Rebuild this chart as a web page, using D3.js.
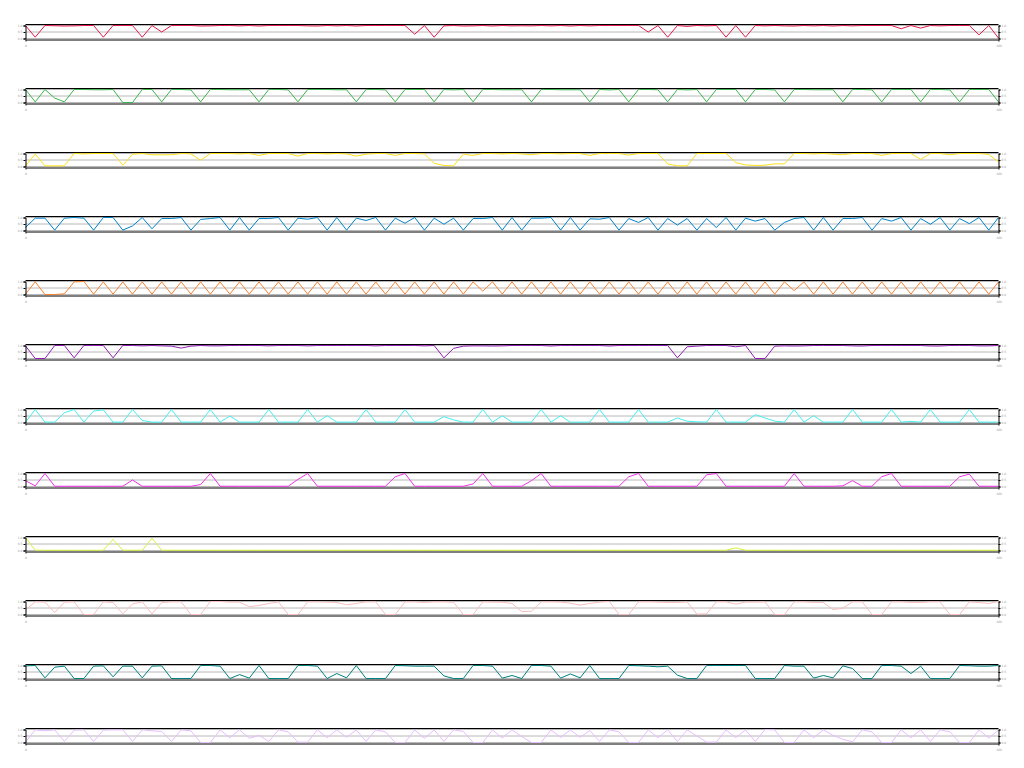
<!DOCTYPE html>
<html>
<head>
<meta charset="utf-8">
<script src="https://cdn.jsdelivr.net/npm/d3@7"></script>
<style>
  html, body { margin: 0; padding: 0; background: #fff; }
  svg { display: block; font-family: "DejaVu Sans", sans-serif; }
</style>
</head>
<body>
<svg id="chart" width="1024" height="768"></svg>
<script>
// ---- data (101 samples per series, x = 0..100) ----
const red = [1,0.1,1,0.98,0.96,0.97,1,1,0.1,1,1,1,0.1,1,0.5,1,1,1,0.96,0.97,1,1,0.97,1,0.96,1,1,1,1,0.97,0.96,1,0.97,1,0.96,1,1,1,1,1,0.33,1,0.1,0.97,1,0.96,0.97,1,0.96,1,0.97,
0.98,0.97,1,0.97,1,0.96,1,0.97,1,1,1,1,1,0.5,1,0.1,1,0.93,1,0.97,1,0.1,1,0.1,1,0.97,1,0.97,0.96,1,0.97,1,0.96,1,0.97,1,1,1,1,0.75,1,0.8,1,0.97,1,1,1,0.28,1,0.03];
const green = [1,0.05,1,0.34,0.05,1,1,0.98,0.98,1,0,0,1,1,0.05,1,1,0.97,0.05,1,1,0.98,0.98,0.98,0.05,1,1,0.97,0.05,1,1,1,0.98,0.98,0.05,1,1,0.97,0.05,1,1,1,0.05,1,0.97,1,0.05,1,1,0.98,0.98,
0.98,0.05,1,1,0.98,0.98,0.98,0.05,1,0.97,1,0.05,1,1,0.98,0.05,1,0.97,1,0.05,1,1,1,0.05,1,1,0.97,0.05,1,1,0.98,0.98,0.98,0.05,1,1,0.97,0.05,1,1,1,0.05,1,1,0.97,0.05,1,1,1,0.05];
const yellow = [0.05,0.95,0.05,0.05,0.05,1,0.97,1,1,1,0.1,0.95,1,0.9,0.9,0.9,1,0.97,0.48,1,1,1,0.97,1,0.85,1,1,1,0.8,1,1,0.97,1,0.97,0.8,0.95,1,1,0.85,1,1,0.97,0.25,0.08,0.05,0.95,0.85,1,1,0.97,1,
0.97,0.9,1,1,0.97,1,1,0.85,1,1,1,0.88,1,1,1,0.2,0.05,0.05,1,1,1,1,0.3,0.12,0.08,0.1,0.2,0.2,1,1,0.97,1,0.95,0.9,1,1,1,0.85,1,1,1,0.55,1,1,0.9,1,1,1,0.93,0.35];
const blue = [0.23,0.95,0.95,0.03,0.95,1,0.95,0.03,1,1,0.03,0.35,1,0.13,0.92,0.92,1,0.03,0.85,0.92,1,0.03,1,0.03,0.92,0.92,1,0.03,0.95,0.87,1,0.03,1,0.03,0.95,0.77,1,0.03,0.95,0.56,1,0.03,0.95,0.48,0.95,0.03,0.92,0.92,1,0.03,1,
0.03,0.95,0.95,1,0.03,1,0.03,0.9,0.87,1,0.03,0.92,0.62,1,0.03,0.92,0.42,0.92,0.03,0.92,0.23,1,0.03,0.95,0.72,0.92,0.03,0.62,0.92,1,0.03,1,0.03,0.92,0.92,1,0.03,0.92,0.72,1,0.03,0.92,0.48,1,0.03,0.92,0.53,1,0.03,1];
const orange = [0.03,0.97,0,0,0.05,0.97,1,0.03,0.97,0.03,0.97,0.03,0.97,0.03,0.97,0.03,0.97,0.03,0.97,0.03,0.97,0.03,0.97,0.03,0.97,0.03,0.97,0.03,0.97,0.03,0.97,0.03,0.97,0.03,0.97,0.03,0.97,0.03,0.97,0.03,0.97,0.03,0.97,0.03,0.97,0.03,0.97,0.26,0.97,0.03,0.97,
0.03,0.97,0.03,0.97,0.03,0.97,0.03,0.97,0.03,0.97,0.03,0.97,0.03,0.97,0.03,0.97,0.03,0.97,0.03,0.97,0.03,0.97,0.03,0.97,0.03,0.97,0.03,0.97,0.3,0.97,0.03,0.97,0.03,0.97,0.03,0.97,0.03,0.97,0.03,0.97,0.03,0.97,0.03,0.97,0.03,0.97,0.03,0.97,0.03,0.97];
const purple = [0.97,0,0,1,1,0.05,1,1,1,0.05,1,1,0.97,1,0.97,0.95,0.8,0.95,1,0.97,0.97,1,1,1,1,0.97,1,1,1,0.97,1,1,1,1,1,1,0.97,1,1,1,1,0.97,1,0.05,0.78,0.95,0.97,0.97,0.96,0.97,1,
1,1,1,0.96,1,1,1,1,1,0.96,1,1,1,1,1,1,0.05,0.9,0.95,1,1,1,0.9,1,0,0,0.95,0.97,0.96,0.97,1,1,1,1,0.97,0.96,1,1,1,1,1,1,0.96,0.96,1,1,1,0.97,0.97,1];
const cyan = [0.03,1,0.03,0.03,0.75,1,0.03,0.88,0.97,0.03,0.03,1,0.15,0.03,0.03,1,0.03,0.03,0.03,1,0.03,0.5,0.03,0.03,0.03,1,0.03,0.03,0.03,1,0.03,0.52,0.03,0.03,0.03,1,0.03,0.03,0.03,1,0.03,0.03,0.03,0.45,0.2,0.03,0.03,1,0.03,0.52,0.03,
0.03,0.03,1,0.03,0.52,0.03,0.03,0.03,1,0.03,0.03,0.03,1,0.03,0.03,0.03,0.35,0.1,0.05,0.03,1,0.03,0.03,0.03,0.6,0.35,0.1,0.03,1,0.03,0.52,0.03,0.03,0.03,1,0.03,0.03,0.03,1,0.03,0.08,0.03,1,0.03,0.03,0.03,1,0.03,0.03,0.03];
const magenta = [0.45,0.05,1,0.02,0.02,0.02,0.02,0.02,0.02,0.02,0.02,0.5,0.02,0.02,0.02,0.02,0.02,0.02,0.15,1,0.02,0.02,0.02,0.02,0.02,0.02,0.02,0.02,0.55,1,0.02,0.02,0.02,0.02,0.02,0.02,0.02,0.02,0.75,1,0.02,0.02,0.02,0.02,0.02,0.02,0.2,1,0.02,0.02,0.02,
0.02,0.45,1,0.02,0.02,0.02,0.02,0.02,0.02,0.02,0.02,0.75,1,0.02,0.02,0.02,0.02,0.02,0.02,0.9,1,0.02,0.02,0.02,0.02,0.02,0.02,0.02,1,0.02,0.02,0.02,0.02,0.05,0.45,0.02,0.02,0.75,1,0.02,0.02,0.02,0.02,0.02,0.02,0.75,0.95,0.02,0.02,0.02];
const lime = [1,0.02,0.02,0.02,0.02,0.02,0.02,0.02,0.02,0.85,0.02,0.02,0.02,0.95,0.02,0.02,0.02,0.02,0.02,0.02,0.02,0.02,0.02,0.02,0.02,0.02,0.02,0.02,0.02,0.02,0.02,0.02,0.02,0.02,0.02,0.02,0.02,0.02,0.02,0.02,0.02,0.02,0.02,0.02,0.02,0.02,0.02,0.02,0.02,0.02,0.02,
0.02,0.02,0.02,0.02,0.02,0.02,0.02,0.02,0.02,0.02,0.02,0.02,0.02,0.02,0.02,0.02,0.02,0.02,0.02,0.02,0.02,0.02,0.2,0.02,0.02,0.02,0.02,0.02,0.02,0.02,0.02,0.02,0.02,0.02,0.02,0.02,0.02,0.02,0.02,0.02,0.02,0.02,0.02,0.02,0.02,0.02,0.02,0.02,0.02,0.02];
const pink = [0.35,0.97,0.95,0.15,0.95,0.97,0,0,0.97,0.92,0.05,0.82,0.97,0.05,0.92,0.97,0.97,0,0,1,1,0.95,0.95,0.6,0.7,0.85,0.97,0,0,0.97,0.97,0.95,0.92,0.75,0.85,0.97,0.97,0,0,0.97,0.97,0.92,0.97,0.97,0.94,0,0,0.97,0.95,0.94,0.85,
0.22,0.25,0.97,0.97,0.95,0.87,0.72,0.85,0.95,1,0,0,0.97,0.97,0.95,0.92,0.92,0.97,0.03,0.05,0.97,0.97,0.8,0.95,0.95,0.97,0,0,0.97,0.97,0.92,0.92,0.38,0.48,0.97,0.97,0,0,0.97,0.97,0.92,0.92,0.97,0.97,0,0,0.97,0.92,0.85,1];
const teal = [0.97,1,0.05,0.87,0.95,0,0,0.95,0.97,0.13,0.95,0.95,0.05,0.95,0.97,0,0,0,1,1,0.95,0,0.3,0.03,1,0,0,0,1,1,0.95,0,0.38,0.05,1,0,0,0,1,0.98,0.95,0.95,0.95,0.2,0,0,1,1,0.95,0.03,0.23,
0,1,1,0.95,0.03,0.35,0.05,1,0,0,0,1,0.98,0.95,0.9,0.95,0.26,0,0,1,1,1,1,1,0,0,0,1,0.95,0.95,0.03,0.23,0.05,0.97,0.77,0,0,1,1,0.95,0.38,0.95,0,0,0,1,0.98,0.95,0.95,1];
const lavender = [0.03,0.97,0.9,0.97,0.08,0.95,0.97,0.08,0.95,0.97,0.97,0.08,0.97,0.9,0.85,0.08,0.97,0.9,0,0,0.97,0.37,0.97,0.32,0.55,0.08,0.97,0.82,0.03,0.03,0.97,0.37,0.97,0.4,0.97,0.08,0.97,0.82,0,0,0.97,0.32,0.97,0.08,0.97,0.85,0,0,0.97,0.34,0.97,
0.45,0,0,0.97,0.4,0.97,0.4,0.92,0.08,0.97,0.82,0,0,0.97,0.37,0.97,0.08,0.97,0.5,0.03,0.03,0.97,0.37,0.97,0.08,1,0.97,0,0,0.97,0.37,0.97,0.55,0.25,0.05,0.97,0.82,0,0,0.97,0.37,0.97,0.08,0.97,0.82,0,0,0.97,0.34,0.95];

const seriesNames = ["red","green","yellow","blue","orange","purple","cyan","magenta","lime","pink","teal","lavender"];
const seriesValues = [red, green, yellow, blue, orange, purple, cyan, magenta, lime, pink, teal, lavender];
const seriesColors = ["#e6194b","#3cb44b","#ffe119","#0082c8","#f58231","#911eb4","#46f0f0","#f032e6","#d2f53c","#fabebe","#008080","#e6beff"];
const yTicks = [0, 0.5, 1];
const xTicks = [0, 100];

// ---- layout ----
const left = 25.5, panelTop = 24.5, step = 64;
const W = 973, H = 15;

const svg = d3.select("#chart");
const x = d3.scaleLinear().domain([0, 100]).range([0, W]);
const y = d3.scaleLinear().domain([0, 1]).range([14, 1]);
const line = d3.line().x((d, i) => x(i)).y(d => y(d));

seriesValues.forEach((vals, k) => {
  const g = svg.append("g")
    .attr("class", "panel " + seriesNames[k])
    .attr("transform", `translate(${left},${panelTop + k * step})`);

  // gridlines
  g.append("g").selectAll("line").data(yTicks).join("line")
    .attr("x1", 0).attr("x2", W)
    .attr("y1", d => y(d)).attr("y2", d => y(d))
    .attr("stroke", "#b8b8b8").attr("stroke-width", 1);

  // top frame line
  g.append("line").attr("x1", 0).attr("x2", W).attr("y1", 0).attr("y2", 0)
    .attr("stroke", "#000").attr("stroke-width", 1);

  // series line
  g.append("path").datum(vals)
    .attr("fill", "none")
    .attr("stroke", seriesColors[k])
    .attr("stroke-width", 1)
    .attr("d", line);

  // bottom axis
  const xa = g.append("g").attr("transform", `translate(0,${H})`)
    .call(d3.axisBottom(x).tickValues(xTicks).tickSize(2).tickSizeOuter(0));
  // left axis
  const ya = g.append("g")
    .call(d3.axisLeft(y).tickValues(yTicks).tickSize(2).tickPadding(1));
  // right axis
  const yr = g.append("g").attr("transform", `translate(${W},0)`)
    .call(d3.axisRight(y).tickValues(yTicks).tickSize(2).tickPadding(1));

  [xa, ya, yr].forEach(a => {
    a.select(".domain").attr("stroke", "#000").attr("stroke-width", 1);
    a.selectAll(".tick line").attr("stroke", "#000");
    a.selectAll("text").attr("font-size", 3).attr("fill", "#999").attr("font-family", "DejaVu Sans");
  });
});
</script>
</body>
</html>
